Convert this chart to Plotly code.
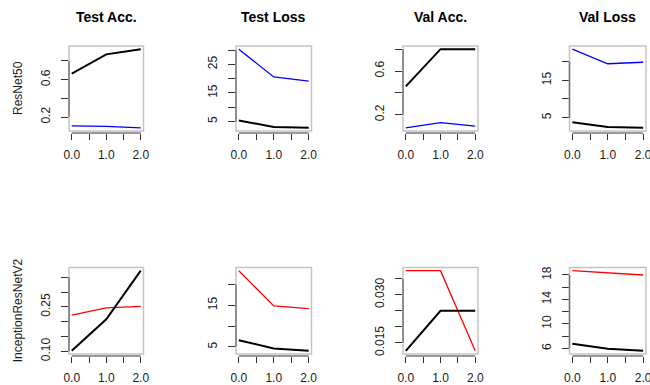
import plotly.graph_objects as go

W, H = 650, 385

# ---------------- data ----------------
epochs = [0, 1, 2]
x_tick_vals = [0, 0.5, 1, 1.5, 2]
x_tick_text = ["0.0", "", "1.0", "", "2.0"]

col_titles = ["Test Acc.", "Test Loss", "Val Acc.", "Val Loss"]
row_titles = ["ResNet50", "InceptionResNetV2"]
row_colors = ["#0000ff", "#ff0000"]

# ResNet50 (black series, blue series)
resnet_test_acc_black = [0.663, 0.870, 0.926]
resnet_test_acc_blue = [0.105, 0.100, 0.084]
resnet_test_loss_black = [5.4, 3.1, 2.8]
resnet_test_loss_blue = [30.3, 20.6, 19.1]
resnet_val_acc_black = [0.459, 0.800, 0.800]
resnet_val_acc_blue = [0.080, 0.128, 0.095]
resnet_val_loss_black = [3.8, 2.55, 2.3]
resnet_val_loss_blue = [23.3, 19.4, 19.8]

# InceptionResNetV2 (black series, red series)
incep_test_acc_black = [0.102, 0.208, 0.372]
incep_test_acc_red = [0.222, 0.247, 0.252]
incep_test_loss_black = [6.6, 4.6, 4.05]
incep_test_loss_red = [23.35, 14.85, 14.2]
incep_val_acc_black = [0.0125, 0.025, 0.025]
incep_val_acc_red = [0.0375, 0.0375, 0.0125]
incep_val_loss_black = [6.76, 5.95, 5.6]
incep_val_loss_red = [18.7, 18.4, 18.0]

# y ticks (values, labels)
y_ticks = [
    [([0.2, 0.4, 0.6, 0.8], ["0.2", "", "0.6", ""]),
     ([5, 10, 15, 20, 25, 30], ["5", "", "15", "", "25", ""]),
     ([0.2, 0.4, 0.6, 0.8], ["0.2", "", "0.6", ""]),
     ([5, 10, 15, 20], ["5", "", "15", ""])],
    [([0.10, 0.15, 0.20, 0.25, 0.30, 0.35], ["0.10", "", "", "0.25", "", ""]),
     ([5, 10, 15, 20], ["5", "", "15", ""]),
     ([0.015, 0.020, 0.025, 0.030, 0.035], ["0.015", "", "", "0.030", ""]),
     ([6, 8, 10, 12, 14, 16, 18], ["6", "", "10", "", "14", "", "18"])],
]

panels = [
    [(resnet_test_acc_black, resnet_test_acc_blue),
     (resnet_test_loss_black, resnet_test_loss_blue),
     (resnet_val_acc_black, resnet_val_acc_blue),
     (resnet_val_loss_black, resnet_val_loss_blue)],
    [(incep_test_acc_black, incep_test_acc_red),
     (incep_test_loss_black, incep_test_loss_red),
     (incep_val_acc_black, incep_val_acc_red),
     (incep_val_loss_black, incep_val_loss_red)],
]

# ---------------- layout geometry (pixels) ----------------
col_px = [(69, 143.5), (236, 311.5), (403, 478), (569.5, 646)]
row_px = [(46, 131), (267.5, 354)]
xaxis_gap = 2

FONT = "Liberation Sans, Arial, Helvetica, sans-serif"
TXT = "#1a1a1a"

def px_x(v):
    return v / W

def px_y(v):
    return 1 - v / H

fig = go.Figure()
layout = dict(
    template="none",
    width=W, height=H,
    margin=dict(l=0, r=0, t=0, b=0, autoexpand=False),
    paper_bgcolor="white", plot_bgcolor="white",
    showlegend=False,
    font=dict(family=FONT, size=12, color=TXT),
)
shapes = []
annotations = []

idx = 0
for r in range(2):
    for c in range(4):
        idx += 1
        xa = "x" if idx == 1 else f"x{idx}"
        ya = "y" if idx == 1 else f"y{idx}"
        black, colored = panels[r][c]
        allv = black + colored
        lo, hi = min(allv), max(allv)
        pad = 0.04 * (hi - lo)
        x0, x1 = col_px[c]
        top, bot = row_px[r]
        tv, tt = y_ticks[r][c]

        fig.add_trace(go.Scatter(x=epochs, y=colored, mode="lines",
                                 line=dict(color=row_colors[r], width=1.3),
                                 xaxis=xa, yaxis=ya, hoverinfo="skip"))
        fig.add_trace(go.Scatter(x=epochs, y=black, mode="lines",
                                 line=dict(color="black", width=2),
                                 xaxis=xa, yaxis=ya, hoverinfo="skip"))

        xpos = px_y(bot + xaxis_gap)
        layout["xaxis" if idx == 1 else f"xaxis{idx}"] = dict(
            domain=[px_x(x0), px_x(x1)], range=[-0.08, 2.08],
            anchor="free", position=xpos, automargin=False,
            showline=False, showgrid=False, zeroline=False,
            ticks="outside", ticklen=6, tickwidth=1, tickcolor="#333",
            tickvals=x_tick_vals, ticktext=x_tick_text,
            tickfont=dict(size=12, color=TXT, family=FONT),
            ticklabelstandoff=5, ticklabeloverflow="allow",
        )
        layout["yaxis" if idx == 1 else f"yaxis{idx}"] = dict(
            domain=[px_y(bot), px_y(top)], range=[lo - pad, hi + pad],
            anchor=xa, automargin=False,
            showline=False, showgrid=False, zeroline=False,
            ticks="outside", ticklen=7, tickwidth=1, tickcolor="#333",
            tickvals=tv, ticktext=tt, tickangle=-90,
            tickfont=dict(size=12, color=TXT, family=FONT),
            ticklabelstandoff=6, ticklabeloverflow="allow",
        )
        # box
        shapes.append(dict(type="rect", xref=f"{xa} domain", yref=f"{ya} domain",
                           x0=0, x1=1, y0=0, y1=1,
                           line=dict(color="#c4c4c4", width=1.5), layer="above"))
        # y axis line (first to last tick)
        shapes.append(dict(type="line", xref=f"{xa} domain", yref=ya,
                           x0=0, x1=0, y0=tv[0], y1=tv[-1],
                           line=dict(color="#777", width=1.5), layer="above"))
        # x axis line (first to last tick)
        shapes.append(dict(type="line", xref=xa, yref="paper",
                           x0=x_tick_vals[0], x1=x_tick_vals[-1], y0=xpos, y1=xpos,
                           line=dict(color="#777", width=1.5), layer="above"))

        if r == 0:
            annotations.append(dict(text=f"<b>{col_titles[c]}</b>", xref="paper", yref="paper",
                                    x=px_x((x0 + x1) / 2), y=px_y(17), showarrow=False,
                                    xanchor="center", yanchor="middle",
                                    font=dict(size=14, color="black", family=FONT)))
    annotations.append(dict(text=row_titles[r], xref="paper", yref="paper",
                            x=px_x(17.5), y=px_y((row_px[r][0] + row_px[r][1]) / 2),
                            textangle=-90, showarrow=False,
                            xanchor="center", yanchor="middle",
                            font=dict(size=12, color=TXT, family=FONT)))

layout["shapes"] = shapes
layout["annotations"] = annotations
fig.update_layout(**layout)
fig.write_html(
    "out.html",
    config={"displayModeBar": False, "staticPlot": True},
    post_script="document.body.style.margin='0';document.body.style.padding='0';"
                "document.body.style.overflow='hidden';",
)
